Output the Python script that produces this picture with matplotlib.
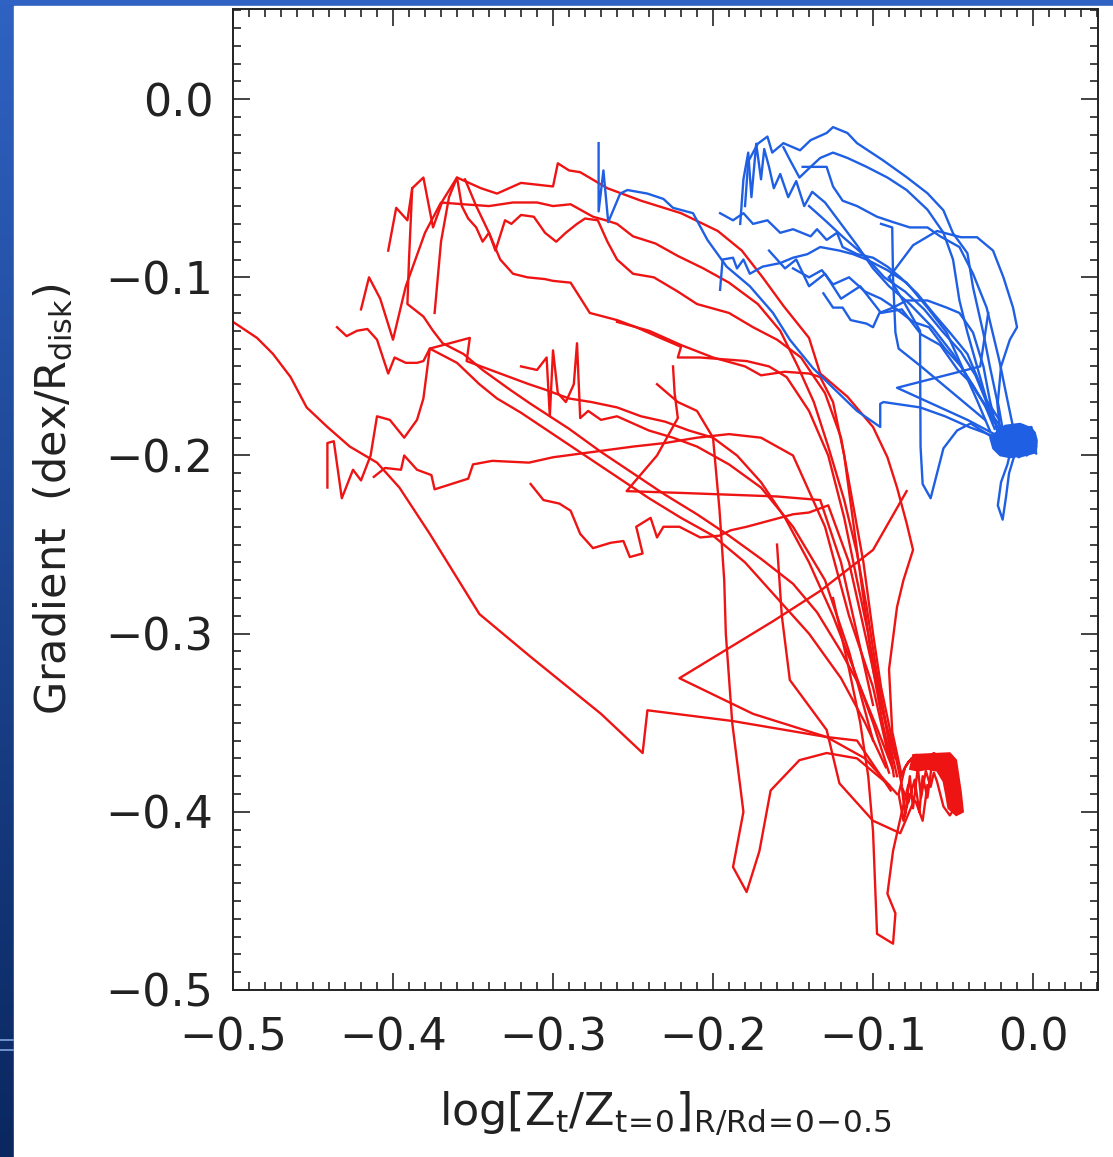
import numpy as np
import matplotlib
matplotlib.use("Agg")
from matplotlib import pyplot as plt
from matplotlib.colors import LinearSegmentedColormap
from matplotlib.patches import Rectangle
from matplotlib.ticker import FixedLocator, MultipleLocator, FuncFormatter

RED = "#ee1414"
BLUE = "#1f5fe3"

x_ticks = [-0.5, -0.4, -0.3, -0.2, -0.1, 0.0]
y_ticks = [-0.5, -0.4, -0.3, -0.2, -0.1, 0.0]

# ---- red tracks (log Z ratio, gradient) ----
red_x1 = [-0.5, -0.485, -0.475, -0.464, -0.454, -0.441, -0.427, -0.41, -0.396, -0.377, -0.346, -0.314, -0.27,
          -0.244, -0.241, -0.188, -0.129, -0.11, -0.089]
red_y1 = [-0.125, -0.134, -0.143, -0.156, -0.173, -0.184, -0.195, -0.204, -0.218, -0.244, -0.289, -0.313, -0.345,
          -0.367, -0.343, -0.349, -0.358, -0.36, -0.388]

red_x2 = [-0.403, -0.398, -0.391, -0.388, -0.381, -0.375, -0.369, -0.36, -0.345, -0.335, -0.32, -0.3, -0.297, -0.29,
          -0.283, -0.266, -0.245, -0.22, -0.197, -0.182, -0.169, -0.156, -0.14, -0.133, -0.116, -0.1, -0.091, -0.085,
          -0.079, -0.075, -0.081, -0.085, -0.09, -0.088, -0.082]
red_y2 = [-0.085, -0.061, -0.068, -0.05, -0.044, -0.072, -0.057, -0.044, -0.05, -0.053, -0.047, -0.049, -0.036, -0.04,
          -0.041, -0.05, -0.057, -0.064, -0.074, -0.085, -0.1, -0.116, -0.134, -0.154, -0.167, -0.184, -0.201, -0.218,
          -0.238, -0.253, -0.27, -0.285, -0.32, -0.355, -0.38]

red_x3 = [-0.42, -0.415, -0.408, -0.4, -0.392, -0.38, -0.37, -0.356, -0.34, -0.325, -0.31, -0.3, -0.289, -0.275,
          -0.267, -0.26, -0.25, -0.236, -0.222, -0.206, -0.19, -0.172, -0.158, -0.147, -0.137, -0.128, -0.118, -0.11,
          -0.104, -0.098, -0.092, -0.087]
red_y3 = [-0.118, -0.1, -0.112, -0.135, -0.105, -0.075, -0.058, -0.059, -0.06, -0.058, -0.058, -0.06, -0.059, -0.066,
          -0.068, -0.07, -0.077, -0.081, -0.088, -0.095, -0.103, -0.115, -0.13, -0.15, -0.17, -0.195, -0.225, -0.255,
          -0.285, -0.32, -0.35, -0.38]

red_x4 = [-0.374, -0.37, -0.365, -0.36, -0.357, -0.353, -0.348, -0.344, -0.34, -0.336, -0.33, -0.326, -0.32, -0.312,
          -0.305, -0.298, -0.292, -0.285, -0.28, -0.272, -0.266, -0.26, -0.25, -0.237, -0.222, -0.21, -0.19, -0.175,
          -0.16, -0.145, -0.13, -0.12, -0.113, -0.106, -0.1, -0.095, -0.088, -0.082]
red_y4 = [-0.12, -0.08, -0.055, -0.044, -0.06, -0.067, -0.072, -0.08, -0.075, -0.085, -0.068, -0.07, -0.065, -0.066,
          -0.075, -0.08, -0.075, -0.07, -0.067, -0.068, -0.08, -0.09, -0.098, -0.1, -0.108, -0.115, -0.12, -0.128,
          -0.135, -0.145, -0.165, -0.19, -0.225, -0.26, -0.3, -0.33, -0.36, -0.385]

red_x5 = [-0.355, -0.348, -0.34, -0.333, -0.325, -0.316, -0.305, -0.3, -0.289, -0.277, -0.26, -0.248, -0.233, -0.22,
          -0.222, -0.208, -0.179, -0.165, -0.154, -0.14, -0.128, -0.118, -0.11, -0.103, -0.097, -0.09, -0.085]
red_y5 = [-0.045, -0.06, -0.075, -0.09, -0.098, -0.1, -0.101, -0.102, -0.103, -0.12, -0.124, -0.128, -0.134, -0.139,
          -0.145, -0.145, -0.147, -0.15, -0.156, -0.175, -0.2, -0.235, -0.27, -0.3, -0.33, -0.36, -0.38]

red_x6 = [-0.388, -0.39, -0.391, -0.381, -0.375, -0.369, -0.356, -0.344, -0.327, -0.314, -0.29, -0.27, -0.25, -0.23,
          -0.21, -0.19, -0.17, -0.15, -0.135, -0.12, -0.108, -0.098, -0.088]
red_y6 = [-0.05, -0.09, -0.115, -0.122, -0.13, -0.137, -0.143, -0.152, -0.163, -0.171, -0.185, -0.198, -0.21, -0.222,
          -0.233, -0.245, -0.258, -0.272, -0.288, -0.31, -0.33, -0.352, -0.375]

red_x7 = [-0.441, -0.441, -0.437, -0.432, -0.425, -0.42, -0.414, -0.41, -0.402, -0.393, -0.385, -0.381, -0.377,
          -0.352, -0.354, -0.33, -0.315, -0.305, -0.29, -0.276, -0.26, -0.245, -0.23, -0.215, -0.2, -0.185, -0.17,
          -0.155, -0.14, -0.125, -0.112, -0.1, -0.09]
red_y7 = [-0.218, -0.193, -0.192, -0.224, -0.208, -0.214, -0.2, -0.178, -0.18, -0.19, -0.18, -0.168, -0.14, -0.134,
          -0.147, -0.155, -0.16, -0.163, -0.168, -0.17, -0.173, -0.178, -0.181, -0.186, -0.19, -0.2, -0.215, -0.235,
          -0.26, -0.29, -0.32, -0.35, -0.378]

red_x8 = [-0.412, -0.405, -0.395, -0.393, -0.385, -0.376, -0.374, -0.353, -0.35, -0.338, -0.315, -0.3, -0.275,
          -0.25, -0.23, -0.21, -0.19, -0.17, -0.15, -0.13, -0.115, -0.1, -0.09]
red_y8 = [-0.212, -0.207, -0.208, -0.2, -0.208, -0.211, -0.219, -0.213, -0.205, -0.203, -0.204, -0.201, -0.198,
          -0.195, -0.193, -0.19, -0.188, -0.19, -0.2, -0.24, -0.29, -0.33, -0.37]

red_x9 = [-0.314, -0.306, -0.296, -0.289, -0.283, -0.275, -0.264, -0.256, -0.252, -0.244, -0.248, -0.239, -0.235,
          -0.231, -0.221, -0.208, -0.196, -0.189, -0.179, -0.15, -0.14, -0.128, -0.115, -0.105, -0.095, -0.086]
red_y9 = [-0.216, -0.225, -0.227, -0.231, -0.244, -0.252, -0.249, -0.248, -0.257, -0.255, -0.24, -0.235, -0.246,
          -0.24, -0.24, -0.246, -0.245, -0.242, -0.24, -0.233, -0.232, -0.228, -0.26, -0.3, -0.34, -0.37]

red_x10 = [-0.079, -0.1, -0.133, -0.1625, -0.221, -0.175, -0.129, -0.105, -0.085]
red_y10 = [-0.22, -0.253, -0.276, -0.293, -0.325, -0.345, -0.358, -0.37, -0.39]

red_x11 = [-0.235, -0.222, -0.21, -0.2, -0.196, -0.193, -0.192, -0.188, -0.181, -0.1875, -0.179, -0.171, -0.164,
           -0.146, -0.129, -0.11, -0.09]
red_y11 = [-0.16, -0.17, -0.175, -0.19, -0.23, -0.27, -0.3, -0.35, -0.4, -0.431, -0.445, -0.422, -0.388, -0.371,
           -0.367, -0.37, -0.385]

red_x12 = [-0.125, -0.115, -0.108, -0.103, -0.1, -0.0975, -0.0875, -0.086, -0.091, -0.0875, -0.082, -0.078]
red_y12 = [-0.28, -0.32, -0.35, -0.38, -0.411, -0.4685, -0.474, -0.457, -0.446, -0.422, -0.4, -0.385]

red_x13 = [-0.16, -0.157, -0.152, -0.129, -0.121, -0.1, -0.083, -0.075]
red_y13 = [-0.25, -0.29, -0.326, -0.354, -0.384, -0.405, -0.412, -0.395]

red_x14 = [-0.435, -0.429, -0.4225, -0.416, -0.41, -0.403, -0.399, -0.392, -0.385, -0.381, -0.377, -0.36, -0.346,
           -0.335, -0.32, -0.3, -0.28, -0.26, -0.24, -0.22, -0.2, -0.18, -0.16, -0.14, -0.12, -0.105, -0.092]
red_y14 = [-0.128, -0.133, -0.13, -0.129, -0.135, -0.154, -0.145, -0.148, -0.148, -0.147, -0.14, -0.148, -0.16,
           -0.168, -0.176, -0.188, -0.2, -0.212, -0.224, -0.235, -0.245, -0.26, -0.28, -0.3, -0.325, -0.35, -0.375]

red_x15 = [-0.32, -0.31, -0.304, -0.302, -0.3, -0.297, -0.292, -0.287, -0.285, -0.283, -0.278, -0.27, -0.26, -0.25,
           -0.24, -0.225, -0.21, -0.19, -0.17, -0.15, -0.13, -0.115, -0.1]
red_y15 = [-0.15, -0.152, -0.145, -0.178, -0.141, -0.165, -0.17, -0.16, -0.137, -0.179, -0.175, -0.18, -0.178,
           -0.182, -0.186, -0.19, -0.195, -0.205, -0.218, -0.24, -0.27, -0.31, -0.36]

red_x16 = [-0.225, -0.224, -0.222, -0.235, -0.254, -0.22, -0.19, -0.16, -0.133, -0.12, -0.11, -0.1]
red_y16 = [-0.15, -0.165, -0.179, -0.2, -0.22, -0.221, -0.222, -0.223, -0.225, -0.26, -0.3, -0.34]

red_x17 = [-0.26, -0.24, -0.22, -0.2, -0.18, -0.17, -0.155, -0.14, -0.133, -0.125, -0.118, -0.112, -0.106, -0.1,
           -0.094, -0.088]
red_y17 = [-0.125, -0.13, -0.138, -0.145, -0.15, -0.155, -0.153, -0.154, -0.156, -0.17, -0.2, -0.24, -0.28, -0.32,
           -0.35, -0.375]

# dense knot where the red runs end
red_knot_x = [-0.083, -0.078, -0.073, -0.068, -0.062, -0.057, -0.055, -0.053, -0.055, -0.051, -0.053, -0.049, -0.052,
              -0.056, -0.058, -0.06, -0.062, -0.064, -0.067, -0.07, -0.072, -0.075, -0.077, -0.08, -0.082, -0.078,
              -0.074, -0.071, -0.069, -0.066, -0.063, -0.06, -0.058, -0.065, -0.07, -0.076, -0.08, -0.084, -0.081,
              -0.077, -0.073, -0.069, -0.066]
red_knot_y = [-0.38, -0.372, -0.368, -0.371, -0.367, -0.37, -0.368, -0.376, -0.383, -0.388, -0.394, -0.398, -0.402,
              -0.397, -0.39, -0.383, -0.378, -0.386, -0.377, -0.392, -0.375, -0.398, -0.38, -0.402, -0.386, -0.395,
              -0.382, -0.4, -0.38, -0.392, -0.372, -0.374, -0.369, -0.369, -0.37, -0.37, -0.375, -0.39, -0.405,
              -0.39, -0.395, -0.405, -0.385]
# outline of the solid bar and hook of that knot
red_blob_x = [-0.075, -0.052, -0.048, -0.0465, -0.045, -0.0437, -0.048, -0.053, -0.0545, -0.056, -0.06, -0.066,
              -0.072, -0.077]
red_blob_y = [-0.368, -0.367, -0.371, -0.38, -0.389, -0.4, -0.402, -0.398, -0.39, -0.383, -0.377, -0.376, -0.377,
              -0.376]

# ---- blue tracks ----
blue_x1 = [-0.2715, -0.2715, -0.2685, -0.2655, -0.258, -0.2535, -0.241, -0.231, -0.225, -0.2125, -0.2035, -0.1915,
           -0.177, -0.1625, -0.152, -0.1375, -0.125, -0.11, -0.0955, -0.0955, -0.0935, -0.0706, -0.055, -0.04, -0.022]
blue_y1 = [-0.0247, -0.063, -0.04, -0.069, -0.053, -0.051, -0.053, -0.056, -0.061, -0.064, -0.079, -0.094, -0.105,
           -0.12, -0.135, -0.151, -0.162, -0.175, -0.184, -0.171, -0.17, -0.173, -0.178, -0.184, -0.19]

blue_x2 = [-0.18, -0.178, -0.172, -0.166, -0.163, -0.156, -0.1456, -0.139, -0.129, -0.125, -0.116, -0.11, -0.0938,
           -0.079, -0.066, -0.056, -0.05, -0.041, -0.0375, -0.031, -0.027, -0.0225, -0.0206]
blue_y2 = [-0.06, -0.035, -0.025, -0.021, -0.03, -0.0247, -0.0287, -0.023, -0.019, -0.0157, -0.019, -0.0247, -0.0343,
           -0.0438, -0.0528, -0.0624, -0.0753, -0.0865, -0.1056, -0.1315, -0.15, -0.169, -0.186]

blue_x3 = [-0.156, -0.152, -0.146, -0.139, -0.133, -0.125, -0.116, -0.104, -0.091, -0.079, -0.066, -0.056, -0.05,
           -0.046, -0.041, -0.035, -0.029, -0.021]
blue_y3 = [-0.027, -0.034, -0.044, -0.038, -0.033, -0.03, -0.033, -0.038, -0.044, -0.051, -0.062, -0.075, -0.09,
           -0.113, -0.131, -0.15, -0.169, -0.18]

blue_x4 = [-0.144, -0.129, -0.125, -0.119, -0.11, -0.0975, -0.0875, -0.077, -0.066, -0.058, -0.046, -0.0375, -0.029,
           -0.021, -0.016, -0.0125]
blue_y4 = [-0.038, -0.038, -0.049, -0.057, -0.06, -0.066, -0.069, -0.072, -0.072, -0.077, -0.083, -0.098, -0.117,
           -0.147, -0.169, -0.184]

blue_x5 = [-0.1956, -0.1875, -0.181, -0.175, -0.166, -0.158, -0.15, -0.139, -0.135, -0.129, -0.1225, -0.119, -0.11,
           -0.1, -0.091, -0.083, -0.0725, -0.0625, -0.052, -0.041, -0.033, -0.025]
blue_y5 = [-0.064, -0.068, -0.064, -0.07, -0.068, -0.075, -0.073, -0.077, -0.073, -0.079, -0.075, -0.083, -0.087,
           -0.089, -0.094, -0.1, -0.109, -0.12, -0.131, -0.143, -0.16, -0.179]

blue_x6 = [-0.1956, -0.194, -0.1875, -0.185, -0.181, -0.177, -0.169, -0.158, -0.15, -0.141, -0.133, -0.121, -0.1125,
           -0.104, -0.091, -0.079, -0.066, -0.054, -0.046, -0.035, -0.027]
blue_y6 = [-0.107, -0.09, -0.089, -0.095, -0.09, -0.098, -0.094, -0.092, -0.089, -0.087, -0.083, -0.085, -0.087,
           -0.09, -0.096, -0.103, -0.117, -0.131, -0.147, -0.169, -0.186]

blue_x7 = [-0.131, -0.125, -0.119, -0.114, -0.104, -0.1, -0.096, -0.0875, -0.079, -0.066, -0.054, -0.046, -0.0375,
           -0.031, -0.027, -0.0225]
blue_y7 = [-0.109, -0.117, -0.117, -0.124, -0.126, -0.128, -0.12, -0.117, -0.113, -0.113, -0.117, -0.12, -0.131,
           -0.15, -0.169, -0.186]

blue_x8 = [-0.183, -0.181, -0.178, -0.176, -0.173, -0.17, -0.168, -0.165, -0.162, -0.158, -0.153, -0.148, -0.143,
           -0.138, -0.13, -0.12, -0.11, -0.1, -0.09, -0.077, -0.063, -0.05, -0.038, -0.028, -0.018]
blue_y8 = [-0.07, -0.045, -0.03, -0.055, -0.025, -0.045, -0.028, -0.038, -0.05, -0.042, -0.055, -0.046, -0.06, -0.052,
           -0.058, -0.07, -0.082, -0.095, -0.105, -0.115, -0.128, -0.143, -0.16, -0.175, -0.19]

blue_x9 = [-0.09, -0.08, -0.0706, -0.0705, -0.0703, -0.069, -0.064, -0.056, -0.0475, -0.039, -0.025]
blue_y9 = [-0.1, -0.115, -0.13, -0.16, -0.195, -0.216, -0.224, -0.196, -0.186, -0.182, -0.19]

blue_x10 = [-0.028, -0.033, -0.085, -0.041, -0.02]
blue_y10 = [-0.12, -0.15, -0.162, -0.18, -0.19]

blue_x11 = [-0.012, -0.016, -0.02, -0.022, -0.019, -0.017, -0.015, -0.01]
blue_y11 = [-0.19, -0.205, -0.215, -0.228, -0.236, -0.224, -0.21, -0.195]

blue_x12 = [-0.09, -0.075, -0.06, -0.045, -0.035, -0.025, -0.0185, -0.0125, -0.01, -0.0145, -0.02, -0.022, -0.018]
blue_y12 = [-0.1, -0.082, -0.074, -0.0775, -0.0775, -0.085, -0.1, -0.117, -0.128, -0.135, -0.15, -0.17, -0.19]

blue_x13 = [-0.15, -0.14, -0.132, -0.125, -0.115, -0.105, -0.095, -0.085, -0.075, -0.065, -0.055, -0.045, -0.035,
            -0.025, -0.015]
blue_y13 = [-0.095, -0.1, -0.096, -0.104, -0.1, -0.108, -0.112, -0.118, -0.125, -0.128, -0.14, -0.15, -0.165, -0.178,
            -0.19]

blue_x14 = [-0.095, -0.088, -0.0875, -0.086, -0.084, -0.07, -0.05, -0.03]
blue_y14 = [-0.07, -0.072, -0.1, -0.131, -0.14, -0.15, -0.165, -0.18]

blue_x15 = [-0.165, -0.155, -0.148, -0.14, -0.13, -0.12, -0.108, -0.095, -0.082, -0.07, -0.058, -0.047, -0.038,
            -0.03, -0.024]
blue_y15 = [-0.085, -0.095, -0.09, -0.105, -0.098, -0.112, -0.105, -0.12, -0.118, -0.132, -0.138, -0.152, -0.16,
            -0.172, -0.185]

blue_x16 = [-0.14, -0.13, -0.118, -0.105, -0.093, -0.08, -0.068, -0.057, -0.045, -0.036, -0.03, -0.025]
blue_y16 = [-0.06, -0.068, -0.078, -0.088, -0.1, -0.108, -0.118, -0.13, -0.142, -0.155, -0.168, -0.182]

blue_knot_x = [-0.02, -0.012, -0.016, -0.006, -0.01, -0.002, -0.008, 0.001, -0.004, 0.002, -0.003, -0.014, -0.018,
               -0.011, -0.006, -0.015, -0.009, -0.02, -0.013, -0.004, 0.0, -0.007, -0.017, -0.021, -0.012, -0.005,
               0.002, -0.001, -0.01, -0.019, -0.016, -0.008, -0.003, 0.001, -0.009, -0.014]
blue_knot_y = [-0.186, -0.183, -0.19, -0.185, -0.195, -0.187, -0.198, -0.19, -0.2, -0.195, -0.185, -0.197, -0.188,
               -0.2, -0.19, -0.184, -0.192, -0.195, -0.188, -0.197, -0.186, -0.183, -0.198, -0.19, -0.194, -0.192,
               -0.199, -0.184, -0.186, -0.185, -0.195, -0.189, -0.193, -0.197, -0.201, -0.191]
blue_blob_x = [-0.0237, -0.0175, -0.0081, -0.0019, 0.0012, 0.0025, 0.0019, -0.005, -0.0144, -0.0206, -0.025, -0.0269]
blue_blob_y = [-0.1875, -0.1832, -0.1821, -0.1843, -0.1871, -0.1916, -0.1983, -0.2, -0.2011, -0.2, -0.1961, -0.19]

red_tracks = [(red_x1, red_y1), (red_x2, red_y2), (red_x3, red_y3), (red_x4, red_y4), (red_x5, red_y5),
              (red_x6, red_y6), (red_x7, red_y7), (red_x8, red_y8), (red_x9, red_y9), (red_x10, red_y10),
              (red_x11, red_y11), (red_x12, red_y12), (red_x13, red_y13), (red_x14, red_y14), (red_x15, red_y15),
              (red_x16, red_y16), (red_x17, red_y17), (red_knot_x, red_knot_y)]
blue_tracks = [(blue_x1, blue_y1), (blue_x2, blue_y2), (blue_x3, blue_y3), (blue_x4, blue_y4), (blue_x5, blue_y5),
               (blue_x6, blue_y6), (blue_x7, blue_y7), (blue_x8, blue_y8), (blue_x9, blue_y9), (blue_x10, blue_y10),
               (blue_x11, blue_y11), (blue_x12, blue_y12), (blue_x13, blue_y13), (blue_x14, blue_y14),
               (blue_x15, blue_y15), (blue_x16, blue_y16), (blue_knot_x, blue_knot_y)]

W, H = 1113, 1157
fig = plt.figure(figsize=(W / 100, H / 100), dpi=100)

# slide background: blue frame on the left and top
bg = fig.add_axes([0, 0, 1, 1])
bg.axis("off")
slide = LinearSegmentedColormap.from_list("slide", ["#0a275f", "#2f62c2"])
bg.imshow(np.linspace(0, 1, 256).reshape(-1, 1), cmap=slide, origin="lower", aspect="auto",
          extent=[0, 1, 0, 1])
bg.add_patch(Rectangle((14 / W, 0), 1, 1 - 6 / H, color="white", zorder=2))
for yy in (1040, 1050):
    bg.plot([0, 13 / W], [1 - yy / H] * 2, color="#7fa4dc", lw=1.2, zorder=3)
bg.set_xlim(0, 1)
bg.set_ylim(0, 1)

ax = fig.add_axes([233 / W, 1 - 990 / H, 865 / W, 981 / H])
ax.set_facecolor("white")
for xs, ys in red_tracks:
    ax.plot(xs, ys, color=RED, lw=1.7)
ax.fill(red_blob_x, red_blob_y, color=RED, lw=1.2)
for xs, ys in blue_tracks:
    ax.plot(xs, ys, color=BLUE, lw=1.7)
ax.fill(blue_blob_x, blue_blob_y, color=BLUE, lw=1.2)

ax.set_xlim(-0.5, 0.0406)
ax.set_ylim(-0.5, 0.0506)

fmt = FuncFormatter(lambda v, p: ("%.1f" % v).replace("-", "\u2212") if abs(v) > 1e-9 else "0.0")
ax.xaxis.set_major_locator(FixedLocator(x_ticks))
ax.yaxis.set_major_locator(FixedLocator(y_ticks))
ax.xaxis.set_minor_locator(MultipleLocator(0.01))
ax.yaxis.set_minor_locator(MultipleLocator(0.01))
ax.xaxis.set_major_formatter(fmt)
ax.yaxis.set_major_formatter(fmt)
ax.tick_params(which="both", direction="in", top=True, right=True, width=1.2, colors="#222222")
ax.tick_params(which="major", length=12, labelsize=32)
ax.tick_params(which="minor", length=6)
ax.tick_params(axis="x", which="major", pad=19)
ax.tick_params(axis="y", which="major", pad=14)
for s in ax.spines.values():
    s.set_linewidth(1.4)
    s.set_color("#222222")

ax.set_ylabel(r"Gradient  (dex/R$_{\mathrm{disk}}$)", fontsize=31, labelpad=22, color="#222222")
ax.set_xlabel(r"log$\left[\mathrm{Z}_\mathrm{t}/\mathrm{Z}_{\mathrm{t\!=\!0}}\right]_{\mathrm{R/Rd\!=\!0\!-\!0.5}}$",
              fontsize=32, labelpad=22, color="#222222")

fig.savefig("out.png", dpi=100)
